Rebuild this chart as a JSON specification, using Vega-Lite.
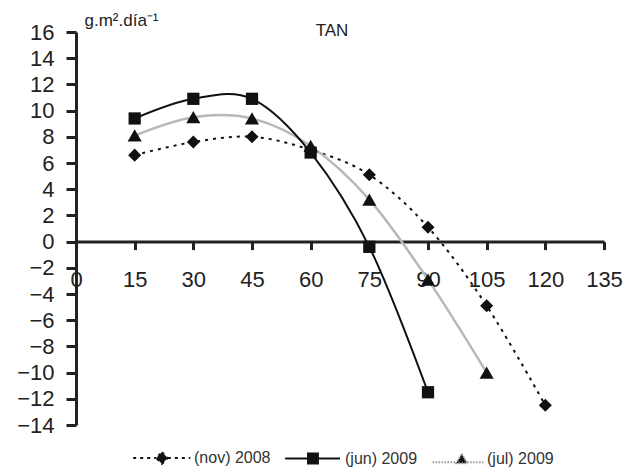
{
  "$schema": "https://vega.github.io/schema/vega-lite/v6.json",
  "autosize": "none",
  "width": 528,
  "height": 393,
  "padding": {"left": 76, "top": 32, "right": 34, "bottom": 43},
  "background": "white",
  "config": {
    "font": "Liberation Sans",
    "view": {"stroke": null},
    "legend": {
      "orient": "none",
      "legendX": 78,
      "legendY": 418,
      "direction": "horizontal",
      "symbolSize": 81,
      "symbolStrokeWidth": 2,
      "symbolOpacity": 1,
      "labelFont": "Liberation Sans",
      "labelFontSize": 16,
      "labelColor": "#333",
      "labelOffset": 24,
      "columnPadding": 10,
      "padding": 0
    }
  },
  "title": {"text": "TAN", "fontSize": 17, "fontWeight": "normal", "color": "#222", "anchor": "middle", "dx": -8, "dy": 24, "offset": -5},
  "data": {
    "values": [
      {"serie": "(nov) 2008", "dia": 15, "valor": 6.6},
      {"serie": "(nov) 2008", "dia": 30, "valor": 7.6},
      {"serie": "(nov) 2008", "dia": 45, "valor": 8.0},
      {"serie": "(nov) 2008", "dia": 60, "valor": 7.0},
      {"serie": "(nov) 2008", "dia": 75, "valor": 5.1},
      {"serie": "(nov) 2008", "dia": 90, "valor": 1.1},
      {"serie": "(nov) 2008", "dia": 105, "valor": -4.9},
      {"serie": "(nov) 2008", "dia": 120, "valor": -12.5},
      {"serie": "(jun) 2009", "dia": 15, "valor": 9.4},
      {"serie": "(jun) 2009", "dia": 30, "valor": 10.9},
      {"serie": "(jun) 2009", "dia": 45, "valor": 10.9},
      {"serie": "(jun) 2009", "dia": 60, "valor": 6.8},
      {"serie": "(jun) 2009", "dia": 75, "valor": -0.4},
      {"serie": "(jun) 2009", "dia": 90, "valor": -11.5},
      {"serie": "(jul) 2009", "dia": 15, "valor": 8.1},
      {"serie": "(jul) 2009", "dia": 30, "valor": 9.5},
      {"serie": "(jul) 2009", "dia": 45, "valor": 9.4},
      {"serie": "(jul) 2009", "dia": 60, "valor": 7.3},
      {"serie": "(jul) 2009", "dia": 75, "valor": 3.2},
      {"serie": "(jul) 2009", "dia": 90, "valor": -2.9},
      {"serie": "(jul) 2009", "dia": 105, "valor": -10.0}
    ]
  },
  "encoding": {
    "x": {
      "field": "dia", "type": "quantitative",
      "scale": {"domain": [0, 135], "nice": false, "zero": false},
      "axis": {
        "title": null,
        "values": [0, 15, 30, 45, 60, 75, 90, 105, 120, 135],
        "offset": -183.4,
        "grid": false,
        "domainWidth": 3, "domainColor": "#222",
        "tickWidth": 3, "tickColor": "#222", "tickSize": 8,
        "labelFontSize": 22, "labelColor": "#222", "labelPadding": 20,
        "labelFlush": false, "labelOverlap": false
      }
    },
    "y": {
      "field": "valor", "type": "quantitative",
      "scale": {"domain": [-14, 16], "nice": false, "zero": false},
      "axis": {
        "title": "g.m².día⁻¹",
        "titleAngle": 0, "titleAlign": "left", "titleBaseline": "alphabetic",
        "titleX": 8, "titleY": -7,
        "titleFontSize": 17, "titleFontWeight": "normal", "titleColor": "#222",
        "values": [-14, -12, -10, -8, -6, -4, -2, 0, 2, 4, 6, 8, 10, 12, 14, 16],
        "grid": false,
        "domainWidth": 3, "domainColor": "#222",
        "tickWidth": 3, "tickColor": "#222", "tickSize": 10,
        "labelFontSize": 22, "labelColor": "#222", "labelPadding": 12
      }
    }
  },
  "layer": [
    {
      "transform": [{"filter": "datum.serie === '(nov) 2008'"}],
      "mark": {"type": "line", "interpolate": "cardinal", "stroke": "#111", "strokeWidth": 2, "strokeDash": [3, 5]}
    },
    {
      "transform": [{"filter": "datum.serie === '(jul) 2009'"}],
      "mark": {"type": "line", "interpolate": "cardinal", "stroke": "#b8b8b8", "strokeWidth": 2.5}
    },
    {
      "transform": [{"filter": "datum.serie === '(jun) 2009'"}],
      "mark": {"type": "line", "interpolate": "cardinal", "stroke": "#111", "strokeWidth": 2}
    },
    {
      "transform": [{"filter": "datum.serie === '(nov) 2008'"}],
      "mark": {"type": "point", "shape": "diamond", "filled": true, "color": "#111", "opacity": 1, "size": 170}
    },
    {
      "transform": [{"filter": "datum.serie === '(jul) 2009'"}],
      "mark": {"type": "point", "shape": "triangle-up", "filled": true, "color": "#111", "opacity": 1, "size": 200}
    },
    {
      "transform": [{"filter": "datum.serie === '(jun) 2009'"}],
      "mark": {"type": "point", "shape": "square", "filled": true, "color": "#111", "opacity": 1, "size": 150}
    },
    {
      "mark": {"type": "point", "opacity": 0, "filled": true},
      "encoding": {
        "shape": {
          "field": "serie", "type": "nominal",
          "scale": {
            "domain": ["(nov) 2008", "(jun) 2009", "(jul) 2009"],
            "range": [
              "M-6.4,0H-1.3M1.3,0H6.3M0,-1.3L1.3,0L0,1.3L-1.3,0Z",
              "M-6.2,0H-1.1M1.1,0H6M-1.1,-1.1H1.1V1.1H-1.1Z",
              "M-5,0.8H0.3M2.7,0.8H6.3M1.5,-1.1L2.7,1L0.3,1Z"
            ]
          },
          "legend": {"title": null}
        },
        "fill": {
          "field": "serie", "type": "nominal",
          "scale": {"domain": ["(nov) 2008", "(jun) 2009", "(jul) 2009"], "range": ["#111", "#111", "#111"]},
          "legend": {"title": null}
        },
        "stroke": {
          "field": "serie", "type": "nominal",
          "scale": {"domain": ["(nov) 2008", "(jun) 2009", "(jul) 2009"], "range": ["#111", "#111", "#999"]},
          "legend": {"title": null}
        },
        "strokeDash": {
          "field": "serie", "type": "nominal",
          "scale": {"domain": ["(nov) 2008", "(jun) 2009", "(jul) 2009"], "range": [[3, 4], [1, 0], [1.5, 1.5]]},
          "legend": {"title": null}
        }
      }
    }
  ]
}
